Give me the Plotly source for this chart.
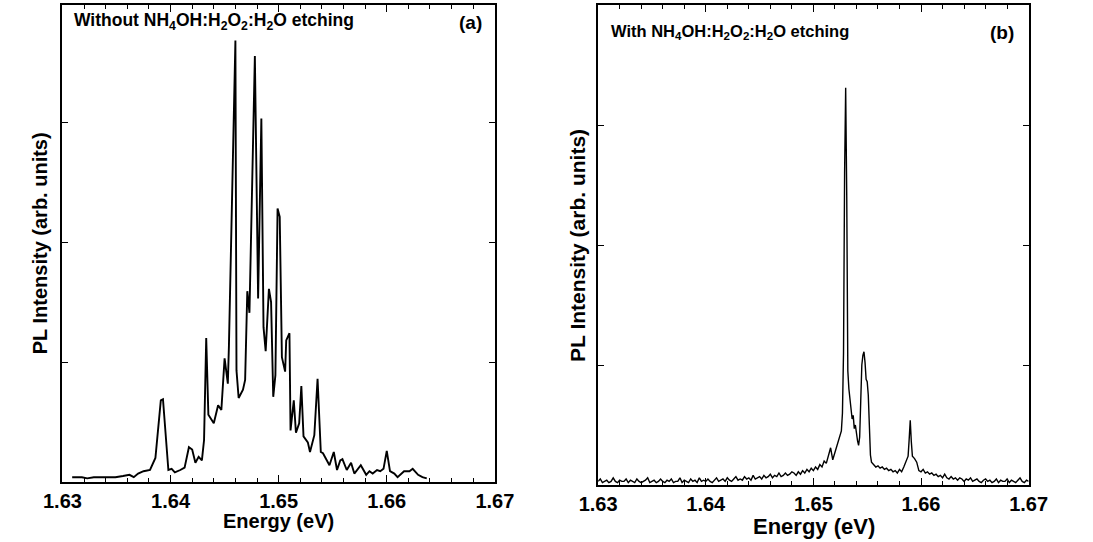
import numpy as np
import plotly.graph_objects as go

# ---------------- data: panel (a) without etching ----------------
energy_a = [
    1.6309, 1.6318, 1.6323, 1.6329, 1.6335, 1.6342, 1.6349, 1.6356, 1.6362, 1.6366,
    1.6370, 1.6375, 1.6381, 1.6386, 1.6391, 1.6393, 1.6396, 1.6398, 1.6401, 1.6404,
    1.6409, 1.6413, 1.6417, 1.6420, 1.6423, 1.6426, 1.6429, 1.6431, 1.6433, 1.6435,
    1.6440, 1.6444, 1.6447, 1.6450, 1.6453, 1.6454, 1.6460, 1.6461, 1.6463, 1.6467,
    1.6469, 1.6471, 1.6473, 1.6478, 1.6481, 1.6484, 1.6486, 1.6488, 1.6491, 1.6493,
    1.6495, 1.6497, 1.6499, 1.6501, 1.6503, 1.6506, 1.6507, 1.6510, 1.6511, 1.6514,
    1.6516, 1.6519, 1.6521, 1.6523, 1.6527, 1.6529, 1.6533, 1.6536, 1.6539, 1.6541,
    1.6544, 1.6547, 1.6551, 1.6554, 1.6557, 1.6559, 1.6563, 1.6567, 1.6570, 1.6576,
    1.6581, 1.6584, 1.6587, 1.6591, 1.6594, 1.6597, 1.6600, 1.6603, 1.6607, 1.6610,
    1.6616, 1.6621, 1.6624, 1.6629, 1.6633, 1.6637,
]
intensity_a = [
    0.04, 0.04, 0.03, 0.04, 0.04, 0.04, 0.04, 0.05, 0.06, 0.04,
    0.07, 0.09, 0.10, 0.20, 0.68, 0.69, 0.30, 0.10, 0.11, 0.08,
    0.10, 0.12, 0.29, 0.27, 0.16, 0.21, 0.18, 0.35, 1.20, 0.56,
    0.49, 0.64, 0.60, 1.03, 0.82, 1.13, 3.68, 0.93, 0.70, 0.77,
    0.85, 1.59, 1.41, 3.55, 1.53, 3.03, 1.29, 1.09, 1.61, 1.50,
    0.71, 0.89, 2.28, 2.21, 1.04, 0.92, 1.18, 1.24, 0.43, 0.68,
    0.41, 0.49, 0.80, 0.38, 0.33, 0.25, 0.39, 0.86, 0.25, 0.24,
    0.19, 0.14, 0.25, 0.10, 0.18, 0.19, 0.10, 0.16, 0.07, 0.14,
    0.06, 0.09, 0.07, 0.10, 0.09, 0.11, 0.26, 0.09, 0.07, 0.04,
    0.09, 0.09, 0.11, 0.06, 0.04, 0.03,
]

# ---------------- data: panel (b) with etching ----------------
energy_b_low = np.round(np.arange(1.6300, 1.64801, 0.0002), 4)
intensity_b_low = [
    0.03, 0.05, 0.02, 0.03, 0.04, 0.02, 0.03, 0.06, 0.03, 0.02,
    0.04, 0.03, 0.03, 0.05, 0.02, 0.04, 0.03, 0.02, 0.05, 0.03,
    0.02, 0.03, 0.04, 0.06, 0.02, 0.03, 0.04, 0.02, 0.03, 0.05,
    0.03, 0.02, 0.04, 0.03, 0.05, 0.02, 0.03, 0.03, 0.06, 0.02,
    0.04, 0.03, 0.02, 0.05, 0.03, 0.04, 0.02, 0.06, 0.03, 0.04,
    0.03, 0.05, 0.03, 0.02, 0.04, 0.06, 0.03, 0.04, 0.05, 0.03,
    0.06, 0.04, 0.03, 0.05, 0.07, 0.04, 0.05, 0.04, 0.07, 0.05,
    0.06, 0.04, 0.08, 0.05, 0.06, 0.07, 0.05, 0.08, 0.06, 0.07,
    0.09, 0.06, 0.08, 0.07, 0.10, 0.07, 0.08, 0.10, 0.08, 0.09, 0.11,
]
energy_b_mid = [
    1.6482, 1.6484, 1.6486, 1.6488, 1.6490, 1.6492, 1.6494, 1.6496, 1.6498, 1.6500,
    1.6502, 1.6504, 1.6506, 1.6508, 1.6510, 1.6512, 1.6514, 1.6516, 1.6518, 1.6520,
    1.6522, 1.6524, 1.6526, 1.6527, 1.6528, 1.6529, 1.6530, 1.6531, 1.6532, 1.6533,
    1.6534, 1.6535, 1.6536, 1.6537, 1.6538, 1.6539, 1.6540, 1.6541, 1.6542, 1.6543,
    1.6544, 1.6545, 1.6546, 1.6547, 1.6548, 1.6549, 1.6550, 1.6551, 1.6552, 1.6553,
    1.6554, 1.6556, 1.6558, 1.6560, 1.6562, 1.6564, 1.6566, 1.6568, 1.6570, 1.6572,
    1.6574, 1.6576, 1.6578, 1.6580, 1.6582, 1.6584, 1.6586, 1.6588, 1.6589, 1.6590,
    1.6591, 1.6592, 1.6594, 1.6596, 1.6598, 1.6600, 1.6602, 1.6604, 1.6606, 1.6608,
    1.6610, 1.6612,
]
intensity_b_mid = [
    0.10, 0.08, 0.11, 0.09, 0.12, 0.10, 0.13, 0.11, 0.14, 0.12,
    0.15, 0.13, 0.17, 0.15, 0.20, 0.18, 0.24, 0.31, 0.21, 0.27,
    0.32, 0.37, 0.45, 0.60, 1.10, 2.60, 3.31, 2.40, 0.95, 0.80,
    0.72, 0.62, 0.55, 0.58, 0.47, 0.50, 0.41, 0.37, 0.33, 0.40,
    0.70, 1.00, 1.08, 1.11, 1.02, 0.88, 0.86, 0.75, 0.50, 0.25,
    0.19, 0.17, 0.15, 0.16, 0.14, 0.15, 0.13, 0.14, 0.12, 0.13,
    0.11, 0.12, 0.10, 0.13, 0.11, 0.15, 0.19, 0.24, 0.38, 0.54,
    0.36, 0.24, 0.22, 0.19, 0.12, 0.11, 0.13, 0.10, 0.11, 0.09,
    0.10, 0.08,
]
energy_b_high = np.round(np.arange(1.6614, 1.67001, 0.0002), 4)
intensity_b_high = [
    0.09, 0.07, 0.08, 0.06, 0.09, 0.06, 0.05, 0.07, 0.05, 0.06,
    0.04, 0.06, 0.05, 0.03, 0.05, 0.04, 0.06, 0.03, 0.04, 0.05,
    0.03, 0.02, 0.04, 0.05, 0.03, 0.04, 0.02, 0.03, 0.05, 0.02,
    0.04, 0.03, 0.03, 0.05, 0.02, 0.04, 0.03, 0.02, 0.04, 0.06,
    0.03, 0.02, 0.04, 0.03,
]
n_low = min(len(energy_b_low), len(intensity_b_low))
n_high = min(len(energy_b_high), len(intensity_b_high))
energy_b = list(energy_b_low[:n_low]) + energy_b_mid + list(energy_b_high[:n_high])
intensity_b = intensity_b_low[:n_low] + intensity_b_mid + intensity_b_high[:n_high]

# ---------------- axis labels ----------------
x_tick_vals = [1.63, 1.64, 1.65, 1.66, 1.67]
x_tick_text = ["1.63", "1.64", "1.65", "1.66", "1.67"]
y_tick_vals = [1, 2, 3]
x_title = "Energy (eV)"
y_title = "PL Intensity (arb. units)"
label_a = "Without NH<sub>4</sub>OH:H<sub>2</sub>O<sub>2</sub>:H<sub>2</sub>O etching"
label_b = "With NH<sub>4</sub>OH:H<sub>2</sub>O<sub>2</sub>:H<sub>2</sub>O etching"

W, H = 1093, 542
FONT = "Liberation Sans, Arial, Helvetica, sans-serif"


def fx(p):
    return p / W


def fy(p):
    return 1 - p / H


fig = go.Figure()
fig.add_trace(go.Scatter(x=energy_a, y=intensity_a, mode="lines",
                         line=dict(color="black", width=1.9),
                         xaxis="x", yaxis="y", showlegend=False, hoverinfo="skip"))
fig.add_trace(go.Scatter(x=energy_b, y=intensity_b, mode="lines",
                         line=dict(color="black", width=1.4),
                         xaxis="x2", yaxis="y2", showlegend=False, hoverinfo="skip"))


def xaxis(domain, size):
    return dict(domain=domain, range=[1.63, 1.67], tickmode="array",
                tickvals=x_tick_vals, ticktext=x_tick_text,
                ticks="inside", ticklen=7, tickwidth=1.2, tickcolor="black",
                minor=dict(dtick=0.002, tick0=1.63, ticks="inside", ticklen=4,
                           tickwidth=1, tickcolor="black"),
                showline=True, linecolor="black", linewidth=1.6, mirror="ticks",
                showgrid=False, zeroline=False, fixedrange=True,
                tickfont=dict(family=FONT, size=size, color="black", weight="bold"))


def yaxis(domain, top, anchor):
    return dict(domain=domain, range=[0, top], tickmode="array", tickvals=y_tick_vals,
                showticklabels=False, ticks="inside", ticklen=6, tickwidth=1.2,
                tickcolor="black", showline=True, linecolor="black", linewidth=1.6,
                mirror="ticks", showgrid=False, zeroline=False, anchor=anchor,
                fixedrange=True)


fig.update_layout(
    width=W, height=H, margin=dict(l=0, r=0, t=0, b=0),
    paper_bgcolor="white", plot_bgcolor="white", showlegend=False,
    xaxis=dict(xaxis([fx(45), fx(493)], 20), anchor="y"),
    yaxis=yaxis([1 - 482 / H, 1 - 5 / H], 3.975, "x"),
    xaxis2=dict(xaxis([fx(600), fx(1046)], 20), anchor="y2"),
    yaxis2=yaxis([1 - 485 / H, 1 - 5 / H], 4.0, "x2"),
)

ann = [
    dict(text="<b>" + label_a + "</b>", x=fx(55), y=fy(21), xanchor="left", yanchor="middle",
         font=dict(family=FONT, size=17.5, color="black")),
    dict(text="<b>(a)</b>", x=fx(468), y=fy(22), xanchor="center", yanchor="middle",
         font=dict(family=FONT, size=19, color="black")),
    dict(text="<b>" + label_b + "</b>", x=fx(611), y=fy(32), xanchor="left", yanchor="middle",
         font=dict(family=FONT, size=16.5, color="black")),
    dict(text="<b>(b)</b>", x=fx(1018), y=fy(33), xanchor="center", yanchor="middle",
         font=dict(family=FONT, size=19, color="black")),
    dict(text="<b>" + x_title + "</b>", x=fx(269), y=fy(521), xanchor="center", yanchor="middle",
         font=dict(family=FONT, size=20, color="black")),
    dict(text="<b>" + x_title + "</b>", x=fx(824), y=fy(526), xanchor="center", yanchor="middle",
         font=dict(family=FONT, size=22, color="black")),
    dict(text="<b>" + y_title + "</b>", x=fx(22), y=fy(243), xanchor="center", yanchor="middle",
         textangle=-90, font=dict(family=FONT, size=20, color="black")),
    dict(text="<b>" + y_title + "</b>", x=fx(578), y=fy(245), xanchor="center", yanchor="middle",
         textangle=-90, font=dict(family=FONT, size=21, color="black")),
]
for a in ann:
    a.update(xref="paper", yref="paper", showarrow=False)
fig.update_layout(annotations=ann)

fig.write_html("out.html", config={"displayModeBar": False},
               post_script="document.body.style.margin='0px';document.body.style.overflow='hidden';")
